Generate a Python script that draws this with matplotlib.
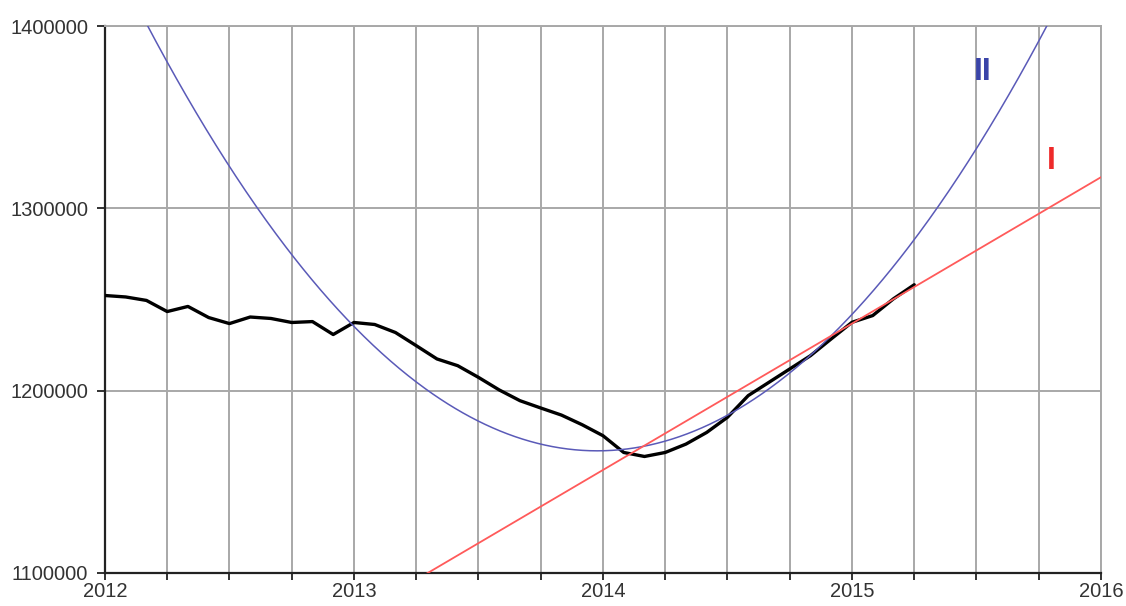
import numpy as np
import matplotlib
matplotlib.use("Agg")
import matplotlib.pyplot as plt

# Monthly observations, Jan 2012 .. Apr 2015
start_year = 2012.0
observed = [
    1252200, 1251400, 1249500, 1243400, 1246200, 1240100, 1236800, 1240400,
    1239600, 1237400, 1237900, 1230800, 1237400, 1236300, 1231900, 1224700,
    1217400, 1213700, 1207300, 1200400, 1194500, 1190500, 1186600, 1181300,
    1175300, 1166100, 1163900, 1166100, 1170700, 1177100, 1185400, 1197300,
    1204600, 1211900, 1219200, 1228400, 1237500, 1241200, 1250400, 1258100,
]

# Trend I: straight line (anchor year, value, slope per year)
linear_anchor = (2015.787, 1300000)
linear_slope = 80300

# Trend II: parabola (vertex year, vertex value, curvature)
quad_vertex = (2013.977, 1167000)
quad_coef = 71500

year_ticks = [2012, 2013, 2014, 2015, 2016]
value_ticks = [1100000, 1200000, 1300000, 1400000]

plt.rcParams['font.family'] = ['Liberation Sans', 'DejaVu Sans']

fig = plt.figure(figsize=(11.26, 6.06), dpi=100)
ax = fig.add_axes([0.0932, 0.0545, 0.8846, 0.9025])

t_obs = start_year + np.arange(len(observed)) / 12.0
t = np.linspace(2012, 2016, 800)
lin = linear_anchor[1] + linear_slope * (t - linear_anchor[0])
quad = quad_vertex[1] + quad_coef * (t - quad_vertex[0]) ** 2

ax.plot(t_obs, observed, color='black', lw=2.4, solid_joinstyle='round',
        solid_capstyle='round', zorder=3)
ax.plot(t, quad, color='#5a5ab8', lw=1.1, zorder=4)
ax.plot(t, lin, color='#ff5a5a', lw=1.3, zorder=4)

ax.set_xlim(2012, 2016)
ax.set_ylim(1100000, 1400000)

quarters = np.arange(2012, 2016.001, 0.25)
ax.set_xticks(quarters)
ax.set_xticklabels([str(int(q)) if q == int(q) else '' for q in quarters])
ax.set_yticks(value_ticks)
ax.set_yticklabels([str(v) for v in value_ticks])

ax.grid(True, color='#a8a8a8', lw=1.4)
ax.set_axisbelow(True)

for side in ('top', 'right'):
    ax.spines[side].set_color('#a8a8a8')
    ax.spines[side].set_linewidth(1.4)
for side in ('left', 'bottom'):
    ax.spines[side].set_color('#222222')
    ax.spines[side].set_linewidth(1.6)

ax.tick_params(axis='x', direction='out', length=5, width=1.3, color='#222222',
               labelsize=14.5, pad=1.5, labelcolor='#333333')
ax.tick_params(axis='y', direction='out', length=6, width=1.3, color='#222222',
               labelsize=14.5, pad=6, labelcolor='#333333')

ax.text(2015.527, 1375000, 'II', color='#3a44a8', fontsize=23, fontweight='bold',
        ha='center', va='center')
ax.text(2015.8, 1326000, 'I', color='#ee2a2a', fontsize=23, fontweight='bold',
        ha='center', va='center')

fig.savefig('out.png', dpi=100)
